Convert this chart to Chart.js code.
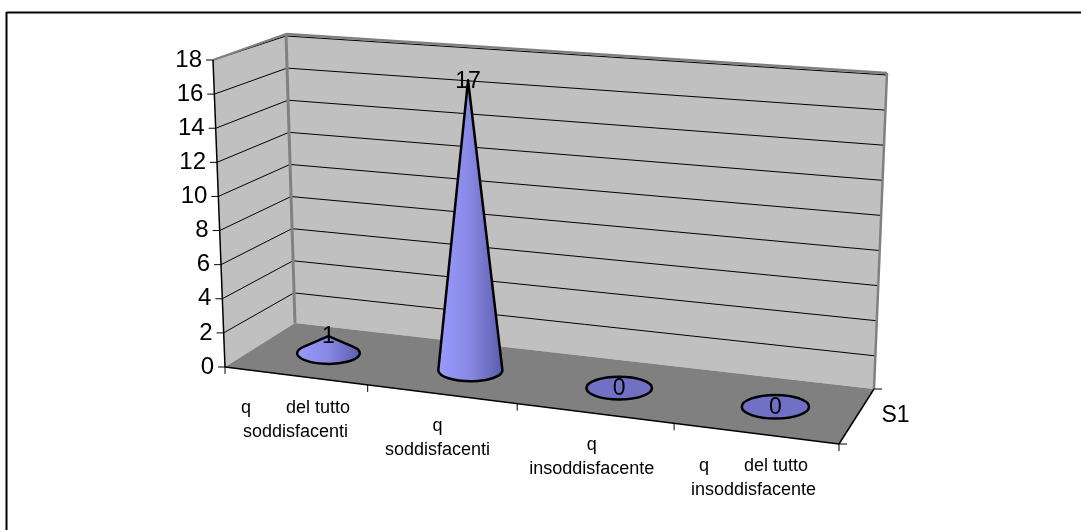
<!DOCTYPE html>
<html>
<head>
<meta charset="utf-8">
<style>
  html, body { margin: 0; padding: 0; background: #fff; }
  canvas { display: block; }
</style>
<script src="https://cdn.jsdelivr.net/npm/chart.js@4/dist/chart.umd.min.js"></script>
</head>
<body>
<canvas id="chart" width="1081" height="530"></canvas>
<script>
// data
const categories = [
    ['q       del tutto', 'soddisfacenti'],
    ['q', 'soddisfacenti'],
    ['q', 'insoddisfacente'],
    ['q       del tutto', 'insoddisfacente']
];
const values = [1, 17, 0, 0];
const yTicks = [0, 2, 4, 6, 8, 10, 12, 14, 16, 18];
const seriesName = 'S1';

// corners of the 3D box, in canvas pixels
const FRONT_L = [225, 367], FRONT_R = [839, 444];
const BACK_L = [295, 323], BACK_R = [874, 389];
const TOP_FRONT_L = [213, 60], TOP_BACK_L = [286, 34], TOP_BACK_R = [887, 73];
const GRID_SHIFT = 2;
const PERSPECTIVE = 0.908;
const LABEL_NUDGE = [0, -4, -3, -2];
const FONT = '"Liberation Sans", Arial, sans-serif';

function lerp(a, b, t) {
    return [a[0] + (b[0] - a[0]) * t, a[1] + (b[1] - a[1]) * t];
}
function line(ctx, a, b, color, width) {
    ctx.strokeStyle = color;
    ctx.lineWidth = width;
    ctx.beginPath();
    ctx.moveTo(a[0], a[1]);
    ctx.lineTo(b[0], b[1]);
    ctx.stroke();
}
function poly(ctx, pts, color) {
    ctx.fillStyle = color;
    ctx.beginPath();
    pts.forEach((p, i) => i ? ctx.lineTo(p[0], p[1]) : ctx.moveTo(p[0], p[1]));
    ctx.closePath();
    ctx.fill();
}
// category scale pixel -> fraction along the floor, with the perspective squeeze
function floorFraction(chart, px) {
    const u = (px - chart.chartArea.left) / chart.chartArea.width;
    return u * PERSPECTIVE / (1 - (1 - PERSPECTIVE) * u);
}
function floorPoint(f, depth) {
    return lerp(lerp(FRONT_L, FRONT_R, f), lerp(BACK_L, BACK_R, f), depth);
}

const boxPlugin = {
    id: 'box3d',
    beforeDatasetsDraw(chart) {
        const ctx = chart.ctx, y = chart.scales.y, x = chart.scales.x;
        const frac = v => (y.bottom - y.getPixelForValue(v)) / (y.bottom - y.top);
        ctx.save();

        // chart frame, only top and left are inside the picture
        line(ctx, [6.5, 12.5], [1081, 12.5], '#000', 2);
        line(ctx, [6.5, 12], [6.5, 530], '#000', 2);

        // walls and floor
        poly(ctx, [FRONT_L, TOP_FRONT_L, TOP_BACK_L, BACK_L], '#c0c0c0');
        poly(ctx, [BACK_L, TOP_BACK_L, TOP_BACK_R, BACK_R], '#c0c0c0');
        poly(ctx, [FRONT_L, BACK_L, BACK_R, FRONT_R], '#808080');

        // gridlines and y ticks
        ctx.font = '24px ' + FONT;
        ctx.textAlign = 'right';
        ctx.textBaseline = 'middle';
        ctx.fillStyle = '#000';
        yTicks.forEach(v => {
            const t = frac(v);
            const a = lerp(FRONT_L, TOP_FRONT_L, t);
            if (v > 0) {
                const b = lerp([BACK_L[0], BACK_L[1] + GRID_SHIFT], [TOP_BACK_L[0], TOP_BACK_L[1] + GRID_SHIFT], t);
                const c = lerp([BACK_R[0], BACK_R[1] + GRID_SHIFT], [TOP_BACK_R[0], TOP_BACK_R[1] + GRID_SHIFT], t);
                line(ctx, a, b, '#000', 1);
                line(ctx, b, c, '#000', 1);
            }
            line(ctx, [a[0] - 7, a[1]], a, '#000', 1);
            ctx.fillText(String(v), a[0] - 11, a[1]);
        });

        // wall outlines
        line(ctx, TOP_FRONT_L, TOP_BACK_L, '#808080', 2);
        line(ctx, TOP_BACK_L, TOP_BACK_R, '#808080', 2.5);
        line(ctx, TOP_BACK_L, BACK_L, '#808080', 3);
        line(ctx, TOP_BACK_R, BACK_R, '#808080', 2.5);

        // axis lines
        line(ctx, TOP_FRONT_L, FRONT_L, '#000', 1.5);
        line(ctx, FRONT_L, FRONT_R, '#000', 1.5);
        line(ctx, FRONT_R, BACK_R, '#000', 1.5);
        line(ctx, BACK_R, [BACK_R[0] + 8, BACK_R[1]], '#000', 1);
        line(ctx, FRONT_R, [FRONT_R[0] + 8, FRONT_R[1]], '#000', 1);

        // category ticks at the band edges
        for (let i = 0; i <= categories.length; i++) {
            const px = x.left + x.width * i / categories.length;
            const p = floorPoint(floorFraction(chart, px), 0);
            line(ctx, p, [p[0], p[1] + 7], '#000', 1);
        }

        // category labels
        ctx.font = '18px ' + FONT;
        ctx.textAlign = 'center';
        ctx.textBaseline = 'middle';
        chart.data.labels.forEach((lines, i) => {
            const p = floorPoint(floorFraction(chart, x.getPixelForValue(i)), 0);
            lines.forEach((s, n) => ctx.fillText(s, p[0] + LABEL_NUDGE[i], p[1] + 32 + n * 24));
        });

        // series label on the depth axis
        ctx.font = '23px ' + FONT;
        ctx.textAlign = 'left';
        const mid = lerp(FRONT_R, BACK_R, 0.5);
        ctx.fillText(seriesName, mid[0] + 25, mid[1] - 1);
        ctx.restore();
    },
    afterDatasetsDraw(chart) {
        const ctx = chart.ctx;
        const bars = chart.getDatasetMeta(0).data;
        ctx.save();
        bars.forEach((bar, i) => {
            const f = floorFraction(chart, bar.x);
            const c = floorPoint(f, 0.5);
            const h = bar.base - bar.y;
            const a = 31 + 3 * f;          // ellipse grows towards the viewer's right
            const b = 10.5 + 1.5 * f;
            const tipX = c[0] - 0.008 * h; // the vertical leans a little with perspective
            ctx.beginPath();
            if (h > 0) {
                const ty = b * b / h;
                const k = Math.sqrt(Math.max(0, 1 - (b / h) * (b / h)));
                const start = Math.asin(ty / b);
                ctx.moveTo(tipX, c[1] - h);
                ctx.lineTo(c[0] + a * k, c[1] - ty);
                ctx.ellipse(c[0], c[1], a, b, 0, -start, Math.PI + start);
                ctx.closePath();
                const g = ctx.createLinearGradient(c[0] - a, 0, c[0] + a, 0);
                g.addColorStop(0, '#9a9aff');
                g.addColorStop(0.5, '#8888e4');
                g.addColorStop(1, '#5c5cac');
                ctx.fillStyle = g;
            } else {
                ctx.ellipse(c[0], c[1], a, b, 0, 0, Math.PI * 2);
                ctx.fillStyle = '#7070c4';
            }
            ctx.fill();
            ctx.lineJoin = 'round';
            ctx.lineWidth = 2.5;
            ctx.strokeStyle = '#000';
            ctx.stroke();

            // value label on the tip of the cone
            ctx.font = '23px ' + FONT;
            ctx.textAlign = 'center';
            ctx.textBaseline = 'middle';
            ctx.fillStyle = '#000';
            ctx.fillText(String(values[i]), tipX, c[1] - h + 1);
        });
        ctx.restore();
    }
};

new Chart(document.getElementById('chart'), {
    type: 'bar',
    data: {
        labels: categories,
        datasets: [{ label: seriesName, data: values, backgroundColor: 'transparent', borderWidth: 0 }]
    },
    options: {
        responsive: false,
        animation: false,
        layout: { padding: { left: 225, right: 242, top: 60, bottom: 163 } },
        plugins: { legend: { display: false }, tooltip: { enabled: false } },
        scales: {
            x: { display: false },
            y: { display: false, min: 0, max: 18, ticks: { stepSize: 2 } }
        }
    },
    plugins: [boxPlugin]
});
</script>
</body>
</html>
